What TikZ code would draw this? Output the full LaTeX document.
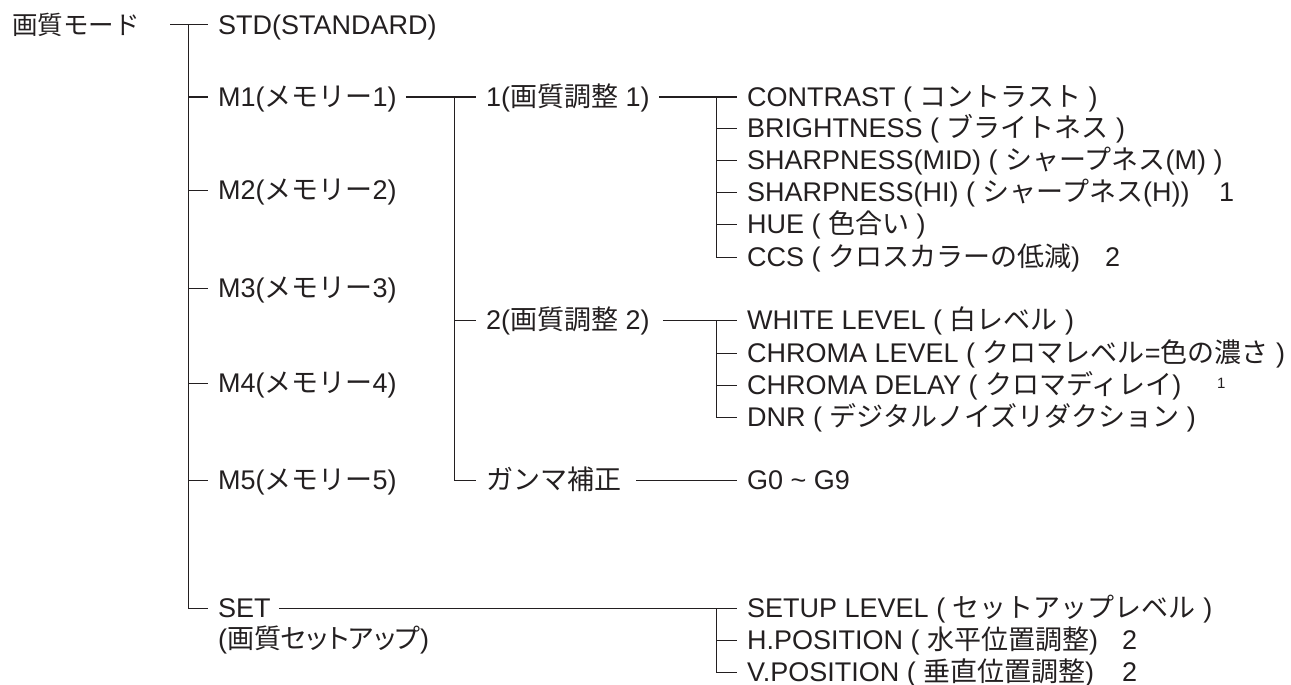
\documentclass[tikz,border=0pt]{standalone}
\usepackage{fontspec}
\setmainfont{Liberation Sans}
\newfontfamily\jpfont{Noto Sans CJK JP}
\newfontfamily\jppfont{Noto Sans CJK JP}[RawFeature=+palt]
\newcommand\J[1]{{\jpfont #1}}
\newcommand\JP[1]{{\jppfont #1}}
\definecolor{ink}{HTML}{231F20}
\begin{document}
\begin{tikzpicture}[x=1pt,y=-1pt,
  lbl/.style={anchor=west, inner sep=0pt, text height=19.4pt, text depth=0pt, text=ink, font=\fontsize{27}{32}\selectfont},
  smallnote/.style={anchor=base west, inner sep=0pt, text=ink, font=\fontsize{15}{17}\selectfont},
  ln/.style={draw=ink, line width=1pt}]
\useasboundingbox (0,0) rectangle (1291,685);
% level 0 / 1
\node[lbl, font=\fontsize{25.5}{30}\selectfont] (root) at (12,25) {\J{画質モード}};
\node[lbl] (std) at (218,25) {STD(STANDARD)};
\node[lbl] (m1) at (218,97) {M1(\J{メモリー}1)};
\node[lbl] (m2) at (218,190) {M2(\J{メモリー}2)};
\node[lbl] (m3) at (218,288) {M3(\J{メモリー}3)};
\node[lbl] (m4) at (218,383) {M4(\J{メモリー}4)};
\node[lbl] (m5) at (218,480) {M5(\J{メモリー}5)};
\node[lbl] (set) at (218,608) {SET};
\node[lbl] (setj) at (218,639) {(\JP{画質セットアップ})};
% level 2
\node[lbl] (q1) at (486,97) {1(\J{画質調整} 1)};
\node[lbl] (q2) at (486,320) {2(\J{画質調整} 2)};
\node[lbl] (gam) at (486,480) {\J{ガンマ補正}};
% level 3
\node[lbl] (c1) at (747,97) {CONTRAST ( \J{コントラスト} )};
\node[lbl] (c2) at (747,128) {BRIGHTNESS ( \J{ブライトネス} )};
\node[lbl] (c3) at (747,160) {SHARPNESS(MID) ( \J{シャープネス}(M) )};
\node[lbl] (c4) at (747,192) {SHARPNESS(HI) ( \J{シャープネス}(H))};
\node[lbl] (c5) at (747,224) {HUE ( \J{色合い} )};
\node[lbl] (c6) at (747,257) {CCS ( \J{クロスカラーの低減})};
\node[lbl] (n1) at (1219,192) {1};
\node[lbl] (n2) at (1105,257) {2};
\node[lbl] (w1) at (747,320) {WHITE LEVEL ( \J{白レベル} )};
\node[lbl] (w2) at (747,353) {CHROMA LEVEL ( \J{クロマレベル}=\J{色の濃さ} )};
\node[lbl] (w3) at (747,385) {CHROMA DELAY ( \J{クロマディレイ})};
\node[smallnote] (n3) at (1217,388) {1};
\node[lbl] (w4) at (747,417) {DNR ( \J{デジタルノイズリダクション} )};
\node[lbl] (g) at (747,480) {G0 \textasciitilde{} G9};
\node[lbl] (s1) at (747,608) {SETUP LEVEL ( \J{セットアップレベル} )};
\node[lbl] (s2) at (747,640) {H.POSITION ( \J{水平位置調整})};
\node[lbl] (s3) at (747,672) {V.POSITION ( \J{垂直位置調整})};
\node[lbl] (n4) at (1122,640) {2};
\node[lbl] (n5) at (1122,672) {2};
% buses
\coordinate (b0) at (188,25);
\coordinate (b1) at (454,97);
\coordinate (b2) at (716,97);
\coordinate (b3) at (716,320);
\coordinate (b4) at (716,608);
% connectors
\draw[ln] ([xshift=-18pt]b0) -- ([xshift=-10pt]std.west);
\draw[ln] (b0) |- ([xshift=-10pt]set.west);
\foreach \n in {m1,m2,m3,m4,m5} \draw[ln] (b0 |- \n.west) -- ([xshift=-10pt]\n.west);
\draw[ln] ([xshift=9pt]m1.east) -- ([xshift=-10pt]q1.west);
\draw[ln] (b1) |- ([xshift=-10pt]gam.west);
\draw[ln] (b1 |- q2.west) -- ([xshift=-10pt]q2.west);
\draw[ln] ([xshift=9pt]q1.east) -- ([xshift=-10pt]c1.west);
\draw[ln] (b2) |- ([xshift=-10pt]c6.west);
\foreach \n in {c2,c3,c4,c5} \draw[ln] (b2 |- \n.west) -- ([xshift=-10pt]\n.west);
\draw[ln] ([xshift=13pt]q2.east) -- ([xshift=-10pt]w1.west);
\draw[ln] (b3) |- ([xshift=-10pt]w4.west);
\foreach \n in {w2,w3} \draw[ln] (b3 |- \n.west) -- ([xshift=-10pt]\n.west);
\draw[ln] ([xshift=15pt]gam.east) -- ([xshift=-10pt]g.west);
\draw[ln] ([xshift=8pt]set.east) -- ([xshift=-10pt]s1.west);
\draw[ln] (b4) |- ([xshift=-10pt]s3.west);
\draw[ln] (b4 |- s2.west) -- ([xshift=-10pt]s2.west);
\end{tikzpicture}
\end{document}
